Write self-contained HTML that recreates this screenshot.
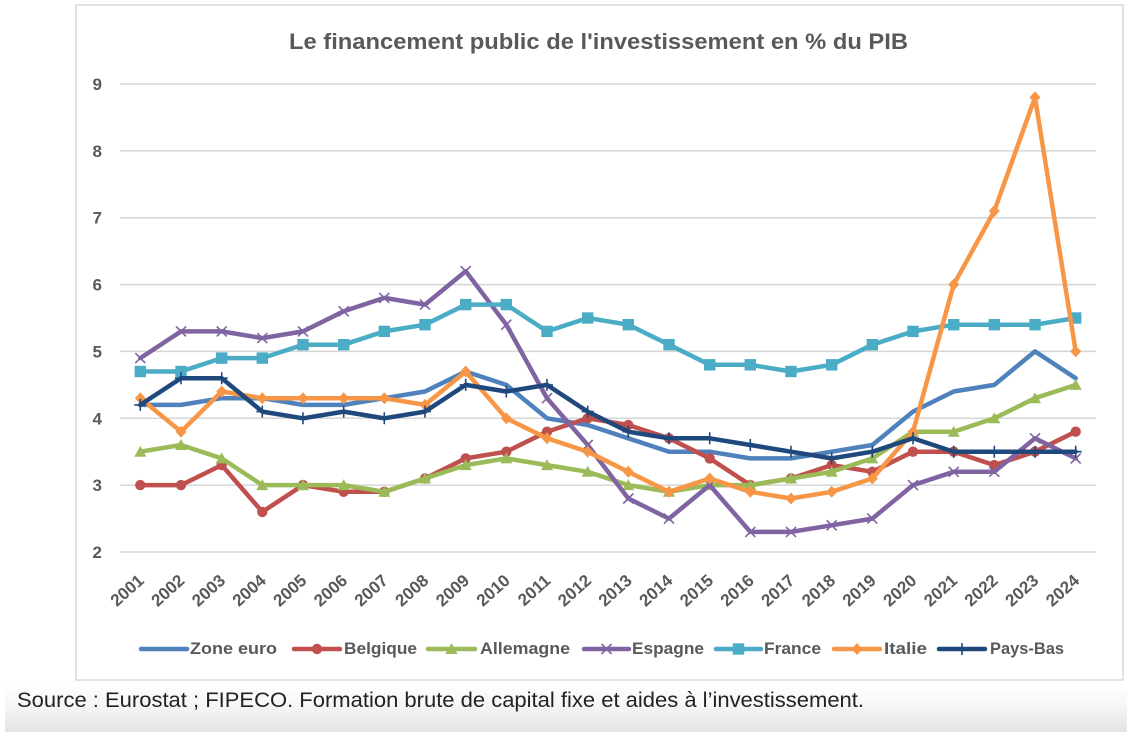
<!DOCTYPE html>
<html>
<head>
<meta charset="utf-8">
<style>
  html,body{margin:0;padding:0;background:#fff;}
  body{width:1127px;height:732px;overflow:hidden;}
  svg{display:block;font-family:"Liberation Sans",Arial,sans-serif;}
</style>
</head>
<body>
<svg width="1127" height="732" viewBox="0 0 1127 732" xmlns="http://www.w3.org/2000/svg">
  <defs>
    <linearGradient id="bg" x1="0" y1="0" x2="0" y2="1">
      <stop offset="0" stop-color="#ffffff"/>
      <stop offset="0.45" stop-color="#f6f6f6"/>
      <stop offset="1" stop-color="#e3e3e3"/>
    </linearGradient>
    <marker id="mCirc" markerUnits="userSpaceOnUse" markerWidth="20" markerHeight="20" refX="10" refY="10" viewBox="0 0 20 20" overflow="visible">
      <circle cx="10" cy="10" r="5.2" fill="#c0504d"/>
    </marker>
    <marker id="mTri" markerUnits="userSpaceOnUse" markerWidth="20" markerHeight="20" refX="10" refY="10" viewBox="0 0 20 20" overflow="visible">
      <polygon points="10,4 16,15 4,15" fill="#9bbb59"/>
    </marker>
    <marker id="mX" markerUnits="userSpaceOnUse" markerWidth="20" markerHeight="20" refX="10" refY="10" viewBox="0 0 20 20" overflow="visible">
      <path d="M5,5 L15,15 M5,15 L15,5" stroke="#8064a2" stroke-width="1.6" fill="none"/>
    </marker>
    <marker id="mSq" markerUnits="userSpaceOnUse" markerWidth="20" markerHeight="20" refX="10" refY="10" viewBox="0 0 20 20" overflow="visible">
      <rect x="4.3" y="4.3" width="11.4" height="11.4" fill="#4bacc6"/>
    </marker>
    <marker id="mDia" markerUnits="userSpaceOnUse" markerWidth="20" markerHeight="20" refX="10" refY="10" viewBox="0 0 20 20" overflow="visible">
      <polygon points="10,4 15.5,10 10,16 4.5,10" fill="#f79646"/>
    </marker>
    <marker id="mPlus" markerUnits="userSpaceOnUse" markerWidth="20" markerHeight="20" refX="10" refY="10" viewBox="0 0 20 20" overflow="visible">
      <path d="M4,10 L16,10 M10,4 L10,16" stroke="#1f497d" stroke-width="1.6" fill="none"/>
    </marker>
  </defs>

  <rect x="0" y="0" width="1127" height="732" fill="#ffffff"/>
  <rect x="5" y="684" width="1122" height="48" fill="url(#bg)"/>

  <rect x="76" y="5" width="1047" height="675" fill="#ffffff" stroke="#d9d9d9" stroke-width="1.5"/>

  <text x="289" y="49" font-size="22" font-weight="bold" fill="#595959" textLength="619" lengthAdjust="spacingAndGlyphs">Le financement public de l'investissement en % du PIB</text>

  <g stroke="#d6d6d6" stroke-width="1.5">
    <line x1="120" y1="84" x2="1096" y2="84"/>
    <line x1="120" y1="150.9" x2="1096" y2="150.9"/>
    <line x1="120" y1="217.7" x2="1096" y2="217.7"/>
    <line x1="120" y1="284.6" x2="1096" y2="284.6"/>
    <line x1="120" y1="351.4" x2="1096" y2="351.4"/>
    <line x1="120" y1="418.3" x2="1096" y2="418.3"/>
    <line x1="120" y1="485.1" x2="1096" y2="485.1"/>
    <line x1="120" y1="552" x2="1096" y2="552"/>
  </g>

  <g font-size="17" font-weight="bold" fill="#595959" text-anchor="end">
    <text x="102" y="90">9</text>
    <text x="102" y="156.9">8</text>
    <text x="102" y="223.7">7</text>
    <text x="102" y="290.6">6</text>
    <text x="102" y="357.4">5</text>
    <text x="102" y="424.3">4</text>
    <text x="102" y="491.1">3</text>
    <text x="102" y="558">2</text>
  </g>

  <g font-size="17" font-weight="bold" fill="#595959" text-anchor="end">
    <text x="145.0" y="582" transform="rotate(-42 145.0 582)">2001</text>
    <text x="185.7" y="582" transform="rotate(-42 185.7 582)">2002</text>
    <text x="226.4" y="582" transform="rotate(-42 226.4 582)">2003</text>
    <text x="267.0" y="582" transform="rotate(-42 267.0 582)">2004</text>
    <text x="307.7" y="582" transform="rotate(-42 307.7 582)">2005</text>
    <text x="348.4" y="582" transform="rotate(-42 348.4 582)">2006</text>
    <text x="389.0" y="582" transform="rotate(-42 389.0 582)">2007</text>
    <text x="429.7" y="582" transform="rotate(-42 429.7 582)">2008</text>
    <text x="470.4" y="582" transform="rotate(-42 470.4 582)">2009</text>
    <text x="511.0" y="582" transform="rotate(-42 511.0 582)">2010</text>
    <text x="551.7" y="582" transform="rotate(-42 551.7 582)">2011</text>
    <text x="592.4" y="582" transform="rotate(-42 592.4 582)">2012</text>
    <text x="633.0" y="582" transform="rotate(-42 633.0 582)">2013</text>
    <text x="673.7" y="582" transform="rotate(-42 673.7 582)">2014</text>
    <text x="714.4" y="582" transform="rotate(-42 714.4 582)">2015</text>
    <text x="755.0" y="582" transform="rotate(-42 755.0 582)">2016</text>
    <text x="795.7" y="582" transform="rotate(-42 795.7 582)">2017</text>
    <text x="836.4" y="582" transform="rotate(-42 836.4 582)">2018</text>
    <text x="877.0" y="582" transform="rotate(-42 877.0 582)">2019</text>
    <text x="917.7" y="582" transform="rotate(-42 917.7 582)">2020</text>
    <text x="958.4" y="582" transform="rotate(-42 958.4 582)">2021</text>
    <text x="999.0" y="582" transform="rotate(-42 999.0 582)">2022</text>
    <text x="1039.7" y="582" transform="rotate(-42 1039.7 582)">2023</text>
    <text x="1080.4" y="582" transform="rotate(-42 1080.4 582)">2024</text>
  </g>

  <g fill="none" stroke-width="4.5" stroke-linejoin="round" stroke-linecap="round">
    <polyline stroke="#4f81bd" points="140.3,404.9 181.0,404.9 221.7,398.2 262.3,398.2 303.0,404.9 343.7,404.9 384.3,398.2 425.0,391.5 465.7,371.5 506.3,384.9 547.0,418.3 587.7,425.0 628.3,438.3 669.0,451.7 709.7,451.7 750.3,458.4 791.0,458.4 831.7,451.7 872.3,445.0 913.0,411.6 953.7,391.5 994.3,384.9 1035.0,351.4 1075.7,378.2"/>
    <polyline stroke="#c0504d" marker-start="url(#mCirc)" marker-mid="url(#mCirc)" marker-end="url(#mCirc)" points="140.3,485.1 181.0,485.1 221.7,465.1 262.3,511.9 303.0,485.1 343.7,491.8 384.3,491.8 425.0,478.5 465.7,458.4 506.3,451.7 547.0,431.7 587.7,418.3 628.3,425.0 669.0,438.3 709.7,458.4 750.3,485.1 791.0,478.5 831.7,465.1 872.3,471.8 913.0,451.7 953.7,451.7 994.3,465.1 1035.0,451.7 1075.7,431.7"/>
    <polyline stroke="#9bbb59" marker-start="url(#mTri)" marker-mid="url(#mTri)" marker-end="url(#mTri)" points="140.3,451.7 181.0,445.0 221.7,458.4 262.3,485.1 303.0,485.1 343.7,485.1 384.3,491.8 425.0,478.5 465.7,465.1 506.3,458.4 547.0,465.1 587.7,471.8 628.3,485.1 669.0,491.8 709.7,485.1 750.3,485.1 791.0,478.5 831.7,471.8 872.3,458.4 913.0,431.7 953.7,431.7 994.3,418.3 1035.0,398.2 1075.7,384.9"/>
    <polyline stroke="#8064a2" marker-start="url(#mX)" marker-mid="url(#mX)" marker-end="url(#mX)" points="140.3,358.1 181.0,331.4 221.7,331.4 262.3,338.1 303.0,331.4 343.7,311.3 384.3,297.9 425.0,304.6 465.7,271.2 506.3,324.7 547.0,398.2 587.7,445.0 628.3,498.5 669.0,518.6 709.7,485.1 750.3,531.9 791.0,531.9 831.7,525.3 872.3,518.6 913.0,485.1 953.7,471.8 994.3,471.8 1035.0,438.3 1075.7,458.4"/>
    <polyline stroke="#4bacc6" marker-start="url(#mSq)" marker-mid="url(#mSq)" marker-end="url(#mSq)" points="140.3,371.5 181.0,371.5 221.7,358.1 262.3,358.1 303.0,344.7 343.7,344.7 384.3,331.4 425.0,324.7 465.7,304.6 506.3,304.6 547.0,331.4 587.7,318.0 628.3,324.7 669.0,344.7 709.7,364.8 750.3,364.8 791.0,371.5 831.7,364.8 872.3,344.7 913.0,331.4 953.7,324.7 994.3,324.7 1035.0,324.7 1075.7,318.0"/>
    <polyline stroke="#f79646" marker-start="url(#mDia)" marker-mid="url(#mDia)" marker-end="url(#mDia)" points="140.3,398.2 181.0,431.7 221.7,391.5 262.3,398.2 303.0,398.2 343.7,398.2 384.3,398.2 425.0,404.9 465.7,371.5 506.3,418.3 547.0,438.3 587.7,451.7 628.3,471.8 669.0,491.8 709.7,478.5 750.3,491.8 791.0,498.5 831.7,491.8 872.3,478.5 913.0,431.7 953.7,284.6 994.3,211.0 1035.0,97.4 1075.7,351.4"/>
    <polyline stroke="#1f497d" marker-start="url(#mPlus)" marker-mid="url(#mPlus)" marker-end="url(#mPlus)" points="140.3,404.9 181.0,378.2 221.7,378.2 262.3,411.6 303.0,418.3 343.7,411.6 384.3,418.3 425.0,411.6 465.7,384.9 506.3,391.5 547.0,384.9 587.7,411.6 628.3,431.7 669.0,438.3 709.7,438.3 750.3,445.0 791.0,451.7 831.7,458.4 872.3,451.7 913.0,438.3 953.7,451.7 994.3,451.7 1035.0,451.7 1075.7,451.7"/>
  </g>

  <g stroke-width="4.5" stroke-linecap="round" fill="none">
    <line x1="141" y1="649" x2="187" y2="649" stroke="#4f81bd"/>
    <line x1="294" y1="649" x2="340" y2="649" stroke="#c0504d"/>
    <line x1="428" y1="649" x2="475" y2="649" stroke="#9bbb59"/>
    <line x1="584" y1="649" x2="629" y2="649" stroke="#8064a2"/>
    <line x1="716" y1="649" x2="761" y2="649" stroke="#4bacc6"/>
    <line x1="834" y1="649" x2="880" y2="649" stroke="#f79646"/>
    <line x1="939" y1="649" x2="985" y2="649" stroke="#1f497d"/>
  </g>
  <g>
    <circle cx="317" cy="649" r="5.2" fill="#c0504d"/>
    <polygon points="451.5,643 457.5,654 445.5,654" fill="#9bbb59"/>
    <path d="M601.5,644 L611.5,654 M601.5,654 L611.5,644" stroke="#8064a2" stroke-width="1.6"/>
    <rect x="732.8" y="643.3" width="11.4" height="11.4" fill="#4bacc6"/>
    <polygon points="857,643 862.5,649 857,655 851.5,649" fill="#f79646"/>
    <path d="M962,643 L962,655" stroke="#1f497d" stroke-width="1.6"/>
  </g>
  <g font-size="16.5" font-weight="bold" fill="#595959">
    <text x="190" y="654" textLength="87" lengthAdjust="spacingAndGlyphs">Zone euro</text>
    <text x="344" y="654" textLength="73" lengthAdjust="spacingAndGlyphs">Belgique</text>
    <text x="480" y="654" textLength="90" lengthAdjust="spacingAndGlyphs">Allemagne</text>
    <text x="632" y="654" textLength="72" lengthAdjust="spacingAndGlyphs">Espagne</text>
    <text x="764" y="654" textLength="57" lengthAdjust="spacingAndGlyphs">France</text>
    <text x="884" y="654" textLength="43" lengthAdjust="spacingAndGlyphs">Italie</text>
    <text x="990" y="654" textLength="74" lengthAdjust="spacingAndGlyphs">Pays-Bas</text>
  </g>

  <text x="17" y="707" font-size="21" fill="#222222" textLength="847" lengthAdjust="spacingAndGlyphs">Source : Eurostat ; FIPECO. Formation brute de capital fixe et aides à l’investissement.</text>
</svg>
</body>
</html>
